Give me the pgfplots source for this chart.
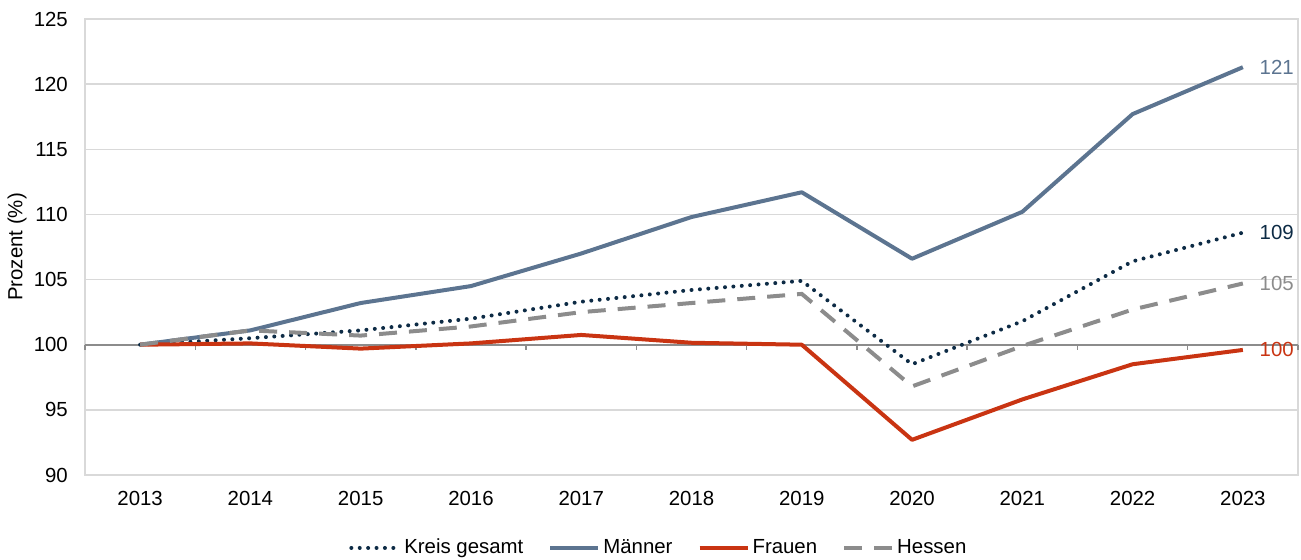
\documentclass[border=0pt]{standalone}
\usepackage{pgfplots}
\pgfplotsset{compat=1.18}
\usepackage{fontspec}
\setmainfont{Liberation Sans}
\definecolor{maenner}{HTML}{5C7490}
\definecolor{kreis}{HTML}{0D2B45}
\definecolor{frauen}{HTML}{C93412}
\definecolor{hessen}{HTML}{8C8C8C}
\definecolor{gridc}{HTML}{D9D9D9}
\definecolor{zeroc}{HTML}{8C8C8C}
\begin{document}
\fontsize{10.2bp}{12bp}\selectfont
\begin{tikzpicture}[font=\fontsize{10.2bp}{12bp}\selectfont]
\useasboundingbox (-42.5bp,-42.5bp) rectangle (608bp,237.5bp);
\begin{axis}[
  at={(0,0)}, anchor=south west,
  scale only axis, width=606.5bp, height=228bp,
  xmin=-0.5, xmax=10.5, ymin=90, ymax=125,
  xtick={0,1,2,3,4,5,6,7,8,9,10},
  xticklabels={2013,2014,2015,2016,2017,2018,2019,2020,2021,2022,2023},
  ytick={90,95,100,105,110,115,120,125},
  /pgf/number format/assume math mode=true,
  ymajorgrids,
  major grid style={gridc, line width=0.75bp},
  axis line style={gridc, line width=0.75bp},
  major tick length=0pt,
  tick label style={font=\fontsize{10.2bp}{12bp}\selectfont},
  yticklabel style={xshift=-5bp},
  xticklabel style={yshift=-4.5bp},
  ylabel={Prozent (\%)},
  ylabel style={at={(axis description cs:-0.056,0.5)}, anchor=center},
  legend style={at={(axis description cs:0.4735,-0.16)}, anchor=center, draw=none,
    legend columns=4, font=\fontsize{10.2bp}{12bp}\selectfont,
    /tikz/every even column/.append style={column sep=11bp},
    nodes={inner sep=1.5bp}},
  legend image code/.code={\draw[#1] (0bp,0bp) -- (24bp,0bp);},
  clip=false,
  extra y ticks={100}, extra y tick labels={},
  extra y tick style={ymajorgrids, major grid style={zeroc, line width=1bp}},
]
\pgfplotsinvokeforeach{-0.5,0.5,1.5,2.5,3.5,4.5,5.5,6.5,7.5,8.5,9.5,10.5}{
  \draw[zeroc, line width=0.75bp] (axis cs:#1,100) -- ++(0pt,-2.5bp);
}
\addplot[kreis, line width=2bp, line cap=round, dash pattern=on 0bp off 4.2bp]
  coordinates {(0,100) (1,100.5) (2,101.1) (3,102.0) (4,103.3) (5,104.2) (6,104.9) (7,98.5) (8,101.8) (9,106.4) (10,108.6)}
  node[pos=1, anchor=west, xshift=4bp, text=kreis] {109};
\addlegendentry{Kreis gesamt}
\addplot[maenner, line width=2bp, line join=round]
  coordinates {(0,100) (1,101.1) (2,103.2) (3,104.5) (4,107.0) (5,109.8) (6,111.7) (7,106.6) (8,110.2) (9,117.7) (10,121.3)}
  node[pos=1, anchor=west, xshift=4bp, text=maenner] {121};
\addlegendentry{Männer}
\addplot[frauen, line width=2bp, line join=round]
  coordinates {(0,100) (1,100.1) (2,99.7) (3,100.1) (4,100.75) (5,100.15) (6,100.0) (7,92.7) (8,95.8) (9,98.5) (10,99.6)}
  node[pos=1, anchor=west, xshift=4bp, text=frauen] {100};
\addlegendentry{Frauen}
\addplot[hessen, line width=2bp, dash pattern=on 9bp off 6bp]
  coordinates {(0,100) (1,101.1) (2,100.7) (3,101.4) (4,102.5) (5,103.2) (6,103.9) (7,96.8) (8,99.9) (9,102.7) (10,104.7)}
  node[pos=1, anchor=west, xshift=4bp, text=hessen] {105};
\addlegendentry{Hessen}
\end{axis}
\end{tikzpicture}
\end{document}
